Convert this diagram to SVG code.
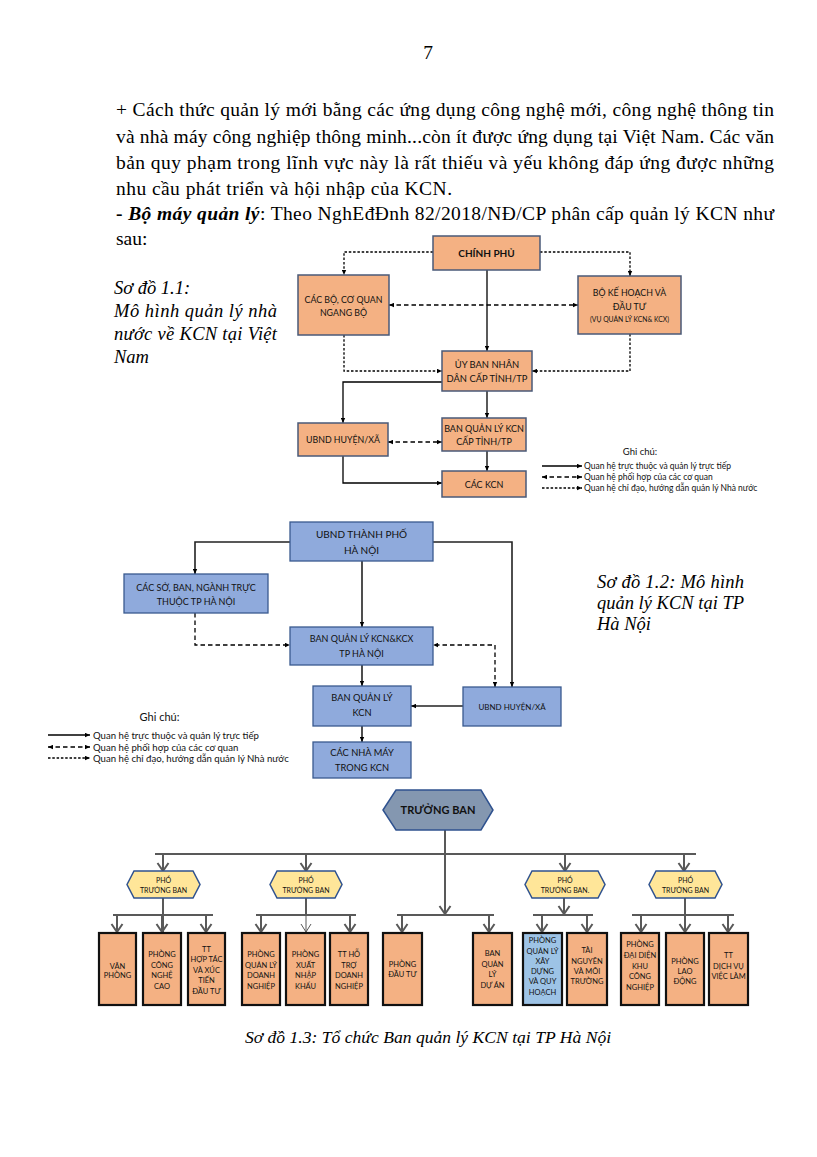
<svg xmlns="http://www.w3.org/2000/svg" width="817" height="1157" viewBox="0 0 817 1157">
<defs>
<style>
.p{font-family:"Liberation Serif","Times New Roman",serif;font-size:19.5px;fill:#000}
.cap{font-family:"Liberation Serif","Times New Roman",serif;font-size:18.5px;font-style:italic;fill:#000}
.t{font-family:Lato,"Open Sans",sans-serif;fill:#111;text-anchor:middle}
.o{fill:#F4B183;stroke:#4A5A78;stroke-width:1.5}
.bl{fill:#8FAADC;stroke:#3A5A8F;stroke-width:1.3}
.bx{fill:#F4B183;stroke:#111;stroke-width:2.2}
.bx2{fill:#9DC3E6;stroke:#111;stroke-width:2.2}
.pho{fill:#FFE699;stroke:#2F528F;stroke-width:1.5}
.s{fill:none;stroke:#000;stroke-width:1.3}
.d1{fill:none;stroke:#000;stroke-width:1.3;stroke-dasharray:2.5 1.8}
.d2{fill:none;stroke:#000;stroke-width:1.3;stroke-dasharray:4.5 3}
.s2{fill:none;stroke:#222;stroke-width:1.6}
.g{fill:none;stroke:#595959;stroke-width:2}
.lg{font-family:Lato,"Open Sans",sans-serif;fill:#111}
</style>
<marker id="ar" viewBox="0 0 8 8" refX="8" refY="4" markerWidth="5" markerHeight="5" orient="auto-start-reverse" markerUnits="userSpaceOnUse"><path d="M0,0.5 L8,4 L0,7.5z" fill="#000"/></marker>
<marker id="ch" viewBox="-1 -7 10 14" refX="8" refY="0" markerWidth="10" markerHeight="14" orient="auto" markerUnits="userSpaceOnUse"><path d="M0,-5.5 L8,0 L0,5.5" fill="none" stroke="#595959" stroke-width="2"/></marker>
<marker id="cht" viewBox="-1 -7 10 14" refX="8" refY="0" markerWidth="10" markerHeight="14" orient="auto" markerUnits="userSpaceOnUse"><path d="M0,-5 L8,0 L0,5" fill="none" stroke="#595959" stroke-width="1"/></marker>
</defs>
<rect width="817" height="1157" fill="#fff"/>

<g id="page-text">
<text class="p" x="428" y="59" text-anchor="middle">7</text>
<text class="p" x="116" y="116" textLength="658" lengthAdjust="spacing">+ Cách thức quản lý mới bằng các ứng dụng công nghệ mới, công nghệ thông tin</text>
<text class="p" x="116" y="143" textLength="658" lengthAdjust="spacing">và nhà máy công nghiệp thông minh...còn ít được ứng dụng tại Việt Nam. Các văn</text>
<text class="p" x="116" y="169" textLength="658" lengthAdjust="spacing">bản quy phạm trong lĩnh vực này là rất thiếu và yếu không đáp ứng được những</text>
<text class="p" x="116" y="195" textLength="336" lengthAdjust="spacing">nhu cầu phát triển và hội nhập của KCN.</text>
<text class="p" x="116" y="220" textLength="658" lengthAdjust="spacing"><tspan font-weight="bold">- </tspan><tspan font-weight="bold" font-style="italic">Bộ máy quản lý</tspan>: Theo NghEđĐnh 82/2018/NĐ/CP phân cấp quản lý KCN như</text>
<text class="p" x="116" y="245">sau:</text>
<text class="cap" x="114" y="294">Sơ đồ 1.1:</text>
<text class="cap" x="114" y="317" textLength="163" lengthAdjust="spacing">Mô hình quản lý nhà</text>
<text class="cap" x="114" y="340" textLength="163" lengthAdjust="spacing">nước về KCN tại Việt</text>
<text class="cap" x="114" y="363">Nam</text>
<text class="cap" x="597" y="588" textLength="147" lengthAdjust="spacing">Sơ đồ 1.2: Mô hình</text>
<text class="cap" x="597" y="609" textLength="147" lengthAdjust="spacing">quản lý KCN tại TP</text>
<text class="cap" x="597" y="630">Hà Nội</text>
<text class="cap" x="428" y="1043" text-anchor="middle" style="font-size:17.6px">Sơ đồ 1.3: Tổ chức Ban quản lý KCN tại TP Hà Nội</text>
</g>

<!-- Diagram 1 -->
<g id="d1-connectors">
<path class="s" d="M487,270 V351" marker-end="url(#ar)"/>
<path class="s" d="M442,382 H343 V423" marker-end="url(#ar)"/>
<path class="s" d="M487,391 V418" marker-end="url(#ar)"/>
<path class="s" d="M487,451 V471" marker-end="url(#ar)"/>
<path class="s" d="M343,456 V483 H442" marker-end="url(#ar)"/>
<path class="d1" d="M433,252 H344 V275" marker-end="url(#ar)"/>
<path class="d1" d="M540,252 H630 V276" marker-end="url(#ar)"/>
<path class="d1" d="M344,335 V371 H442" marker-end="url(#ar)"/>
<path class="d1" d="M630,334 V371 H532" marker-end="url(#ar)"/>
<path class="d2" d="M389,305 H578" marker-start="url(#ar)" marker-end="url(#ar)"/>
<path class="d2" d="M388,442 H442" marker-start="url(#ar)" marker-end="url(#ar)"/>
</g>
<g id="d1-chinhphu"><rect class="o" x="433" y="236" width="107" height="34"/><text class="t" x="486.5" y="257" font-size="10" font-weight="bold">CHÍNH PHỦ</text></g>
<g id="d1-cacbo"><rect class="o" x="298" y="275" width="91" height="60"/><text class="t" x="343.5" y="302.5" font-size="8.8">CÁC BỘ, CƠ QUAN</text><text class="t" x="343.5" y="315.5" font-size="8.8">NGANG BỘ</text></g>
<g id="d1-bokh"><rect class="o" x="578" y="276" width="103" height="58"/><text class="t" x="629.5" y="296" font-size="8.8">BỘ KẾ HOẠCH VÀ</text><text class="t" x="629.5" y="310" font-size="8.8">ĐẦU TƯ</text><text class="t" x="629.5" y="321.5" font-size="6.8">(VỤ QUẢN LÝ KCN&amp; KCX)</text></g>
<g id="d1-ubnd"><rect class="o" x="442" y="351" width="90" height="40"/><text class="t" x="487" y="368" font-size="9.4">ỦY BAN NHÂN</text><text class="t" x="487" y="381.5" font-size="9.4">DÂN CẤP TỈNH/TP</text></g>
<g id="d1-bql"><rect class="o" x="442" y="418" width="84" height="33"/><text class="t" x="484" y="432" font-size="9">BAN QUẢN LÝ KCN</text><text class="t" x="484" y="445" font-size="9">CẤP TỈNH/TP</text></g>
<g id="d1-huyen"><rect class="o" x="298" y="423" width="90" height="33"/><text class="t" x="343" y="443" font-size="8.8">UBND HUYỆN/XÃ</text></g>
<g id="d1-kcn"><rect class="o" x="442" y="471" width="84" height="26"/><text class="t" x="484" y="487.5" font-size="9">CÁC KCN</text></g>
<g id="d1-legend">
<text class="lg" x="640" y="455" font-size="9.5" text-anchor="middle">Ghi chú:</text>
<path class="s" d="M542,466 H582" marker-end="url(#ar)" stroke-width="1"/>
<path class="d2" d="M542,477 H582" marker-start="url(#ar)" marker-end="url(#ar)" stroke-width="1"/>
<path class="d1" d="M542,488 H582" marker-end="url(#ar)" stroke-width="1"/>
<text class="lg" x="584" y="469" font-size="8.5">Quan hệ trực thuộc và quản lý trực tiếp</text>
<text class="lg" x="584" y="480" font-size="8.5">Quan hệ phối hợp của các cơ quan</text>
<text class="lg" x="584" y="491" font-size="8.5">Quan hệ chỉ đạo, hướng dẫn quản lý Nhà nước</text>
</g>

<!-- Diagram 2 -->
<g id="d2-connectors">
<path class="s2" d="M290,542 H195 V574" marker-end="url(#ar)"/>
<path class="s2" d="M433,542 H512 V687" marker-end="url(#ar)"/>
<path class="s2" d="M362,561 V627" marker-end="url(#ar)"/>
<path class="s2" d="M362,665 V686" marker-end="url(#ar)"/>
<path class="s2" d="M463,706 H411" marker-end="url(#ar)"/>
<path class="s2" d="M362,726 V742" marker-end="url(#ar)"/>
<path class="d2" d="M195,613 V645 H290" marker-end="url(#ar)"/>
<path class="d2" d="M495,687 V645 H433" marker-start="url(#ar)" marker-end="url(#ar)"/>
</g>
<g id="d2-ubndtp"><rect class="bl" x="290" y="522" width="143" height="39"/><text class="t" x="361.5" y="537.5" font-size="10">UBND THÀNH PHỐ</text><text class="t" x="361.5" y="553.5" font-size="10">HÀ NỘI</text></g>
<g id="d2-caso"><rect class="bl" x="124" y="574" width="144" height="39"/><text class="t" x="196" y="591" font-size="9">CÁC SỞ, BAN, NGÀNH TRỰC</text><text class="t" x="196" y="604.5" font-size="9">THUỘC TP HÀ NỘI</text></g>
<g id="d2-bql"><rect class="bl" x="290" y="627" width="143" height="38"/><text class="t" x="361.5" y="641.5" font-size="9">BAN QUẢN LÝ KCN&amp;KCX</text><text class="t" x="361.5" y="656.5" font-size="9">TP HÀ NỘI</text></g>
<g id="d2-bqlkcn"><rect class="bl" x="313" y="686" width="98" height="40"/><text class="t" x="362" y="701" font-size="9.3">BAN QUẢN LÝ</text><text class="t" x="362" y="716" font-size="9.3">KCN</text></g>
<g id="d2-nhamay"><rect class="bl" x="313" y="742" width="98" height="36"/><text class="t" x="362" y="756" font-size="9.3">CÁC NHÀ MÁY</text><text class="t" x="362" y="771" font-size="9.3">TRONG KCN</text></g>
<g id="d2-huyen"><rect class="bl" x="463" y="687" width="98" height="39"/><text class="t" x="512" y="709.5" font-size="8">UBND HUYỆN/XÃ</text></g>
<g id="d2-legend">
<text class="lg" x="159.5" y="721" font-size="11" text-anchor="middle">Ghi chú:</text>
<path class="s" d="M48,735 H90" marker-end="url(#ar)" stroke-width="1"/>
<path class="d2" d="M48,747 H90" marker-start="url(#ar)" marker-end="url(#ar)" stroke-width="1"/>
<path class="d1" d="M48,758 H90" marker-end="url(#ar)" stroke-width="1"/>
<text class="lg" x="93" y="738.5" font-size="9.6">Quan hệ trực thuộc và quản lý trực tiếp</text>
<text class="lg" x="93" y="750.5" font-size="9.6">Quan hệ phối hợp của các cơ quan</text>
<text class="lg" x="93" y="761.5" font-size="9.6">Quan hệ chỉ đạo, hướng dẫn quản lý Nhà nước</text>
</g>

<!-- Diagram 3 -->
<g id="d3-connectors">
<path class="g" d="M445,830 V914" marker-end="url(#ch)"/>
<path class="g" d="M155,854 H696"/>
<path class="g" d="M163,854 V871" marker-end="url(#ch)"/>
<path class="g" d="M306,854 V871" marker-end="url(#ch)"/>
<path class="g" d="M565,854 V871" marker-end="url(#ch)"/>
<path class="g" d="M684,854 V871" marker-end="url(#ch)"/>
<path class="g" d="M113,915 H213 M163,898 V932"/>
<path class="g" d="M117,915 V932" marker-end="url(#ch)"/>
<path class="g" d="M162,915 V932" marker-end="url(#ch)"/>
<path class="g" d="M206,915 V932" marker-end="url(#ch)"/>
<path class="g" d="M256,915 H356 M306,898 V915"/>
<path class="g" d="M261,915 V932" marker-end="url(#ch)"/>
<path fill="none" stroke="#595959" stroke-width="1" d="M306,915 V932" marker-end="url(#cht)"/>
<path class="g" d="M350,915 V932" marker-end="url(#ch)"/>
<path class="g" d="M397,915 H494"/>
<path class="g" d="M402,915 V932" marker-end="url(#ch)"/>
<path class="g" d="M489,915 V932" marker-end="url(#ch)"/>
<path class="g" d="M533,915 H593"/>
<path class="g" d="M564,898 V914" marker-end="url(#ch)"/>
<path class="g" d="M542,915 V932" marker-end="url(#ch)"/>
<path class="g" d="M587,915 V932" marker-end="url(#ch)"/>
<path class="g" d="M632,915 H734 M685,898 V915"/>
<path class="g" d="M641,915 V932" marker-end="url(#ch)"/>
<path class="g" d="M685,915 V932" marker-end="url(#ch)"/>
<path class="g" d="M728,915 V932" marker-end="url(#ch)"/>
</g>
<g id="d3-truongban"><polygon points="383,810 396,790 481,790 493,810 481,830 396,830" fill="#8497B0" stroke="#2F528F" stroke-width="1.5"/><text class="t" x="438" y="814" font-size="11" font-weight="bold" fill="#222">TRƯỞNG BAN</text></g>
<g id="d3-pho1"><polygon class="pho" points="127,884.5 134,871 193,871 200,884.5 193,898 134,898"/><text class="t" x="163.5" y="883" font-size="7">PHÓ</text><text class="t" x="163.5" y="893" font-size="7">TRƯỞNG BAN</text></g>
<g id="d3-pho2"><polygon class="pho" points="270,884.5 277,871 335,871 342,884.5 335,898 277,898"/><text class="t" x="306" y="883" font-size="7">PHÓ</text><text class="t" x="306" y="893" font-size="7">TRƯỞNG BAN</text></g>
<g id="d3-pho3"><polygon class="pho" points="525,884.5 532,871 598,871 605,884.5 598,898 532,898"/><text class="t" x="565" y="883" font-size="7">PHÓ</text><text class="t" x="565" y="893" font-size="7">TRƯỞNG BAN.</text></g>
<g id="d3-pho4"><polygon class="pho" points="649,884.5 656,871 715,871 722,884.5 715,898 656,898"/><text class="t" x="685.5" y="883" font-size="7">PHÓ</text><text class="t" x="685.5" y="893" font-size="7">TRƯỞNG BAN</text></g>

<g id="d3-vanphong"><rect class="bx" x="99" y="933" width="37" height="72"/><text class="t" x="117.5" y="968.5" font-size="7.5">VĂN</text><text class="t" x="117.5" y="978" font-size="7.5">PHÒNG</text></g>
<g id="d3-congnghe"><rect class="bx" x="143" y="933" width="38" height="72"/><text class="t" x="162" y="957" font-size="7.5">PHÒNG</text><text class="t" x="162" y="967.5" font-size="7.5">CÔNG</text><text class="t" x="162" y="978" font-size="7.5">NGHỆ</text><text class="t" x="162" y="988.5" font-size="7.5">CAO</text></g>
<g id="d3-hoptac"><rect class="bx" x="188" y="933" width="37" height="72"/><text class="t" x="206.5" y="952" font-size="7.5">TT</text><text class="t" x="206.5" y="962" font-size="7.5">HỢP TÁC</text><text class="t" x="206.5" y="972.5" font-size="7.5">VÀ XÚC</text><text class="t" x="206.5" y="983" font-size="7.5">TIẾN</text><text class="t" x="206.5" y="993.5" font-size="7.5">ĐẦU TƯ</text></g>
<g id="d3-qldn"><rect class="bx" x="242" y="933" width="38" height="72"/><text class="t" x="261" y="957" font-size="7.5">PHÒNG</text><text class="t" x="261" y="967.5" font-size="7.5">QUẢN LÝ</text><text class="t" x="261" y="978" font-size="7.5">DOANH</text><text class="t" x="261" y="988.5" font-size="7.5">NGHIỆP</text></g>
<g id="d3-xnk"><rect class="bx" x="286" y="933" width="39" height="72"/><text class="t" x="305.5" y="957" font-size="7.5">PHÒNG</text><text class="t" x="305.5" y="967.5" font-size="7.5">XUẤT</text><text class="t" x="305.5" y="978" font-size="7.5">NHẬP</text><text class="t" x="305.5" y="988.5" font-size="7.5">KHẨU</text></g>
<g id="d3-hotro"><rect class="bx" x="330" y="933" width="38" height="72"/><text class="t" x="349" y="957" font-size="7.5">TT HỖ</text><text class="t" x="349" y="967.5" font-size="7.5">TRỢ</text><text class="t" x="349" y="978" font-size="7.5">DOANH</text><text class="t" x="349" y="988.5" font-size="7.5">NGHIỆP</text></g>
<g id="d3-dautu"><rect class="bx" x="383" y="933" width="39" height="72"/><text class="t" x="402.5" y="967" font-size="7.5">PHÒNG</text><text class="t" x="402.5" y="977" font-size="7.5">ĐẦU TƯ</text></g>
<g id="d3-bqlda"><rect class="bx" x="473" y="933" width="39" height="72"/><text class="t" x="492.5" y="956" font-size="7.5">BAN</text><text class="t" x="492.5" y="966.5" font-size="7.5">QUẢN</text><text class="t" x="492.5" y="977" font-size="7.5">LÝ</text><text class="t" x="492.5" y="988" font-size="7.5">DỰ ÁN</text></g>
<g id="d3-xaydung"><rect class="bx2" x="523" y="933" width="39" height="72"/><text class="t" x="542.5" y="943" font-size="7.5">PHÒNG</text><text class="t" x="542.5" y="953.5" font-size="7.5">QUẢN LÝ</text><text class="t" x="542.5" y="964" font-size="7.5">XÂY</text><text class="t" x="542.5" y="974" font-size="7.5">DỰNG</text><text class="t" x="542.5" y="984" font-size="7.5">VÀ QUY</text><text class="t" x="542.5" y="994.5" font-size="7.5">HOẠCH</text></g>
<g id="d3-tainguyen"><rect class="bx" x="567" y="933" width="40" height="72"/><text class="t" x="587" y="953" font-size="7.5">TÀI</text><text class="t" x="587" y="964" font-size="7.5">NGUYÊN</text><text class="t" x="587" y="974" font-size="7.5">VÀ MÔI</text><text class="t" x="587" y="984" font-size="7.5">TRƯỜNG</text></g>
<g id="d3-daidien"><rect class="bx" x="621" y="933" width="38" height="72"/><text class="t" x="640" y="947" font-size="7.5">PHÒNG</text><text class="t" x="640" y="958" font-size="7.5">ĐẠI DIỆN</text><text class="t" x="640" y="969" font-size="7.5">KHU</text><text class="t" x="640" y="979" font-size="7.5">CÔNG</text><text class="t" x="640" y="990" font-size="7.5">NGHIỆP</text></g>
<g id="d3-laodong"><rect class="bx" x="666" y="933" width="38" height="72"/><text class="t" x="685" y="964" font-size="7.5">PHÒNG</text><text class="t" x="685" y="974" font-size="7.5">LAO</text><text class="t" x="685" y="984" font-size="7.5">ĐỘNG</text></g>
<g id="d3-vieclam"><rect class="bx" x="709" y="933" width="39" height="72"/><text class="t" x="728.5" y="958" font-size="7.5">TT</text><text class="t" x="728.5" y="969" font-size="7.5">DỊCH VỤ</text><text class="t" x="728.5" y="979" font-size="7.5">VIỆC LÀM</text></g>
</svg>
